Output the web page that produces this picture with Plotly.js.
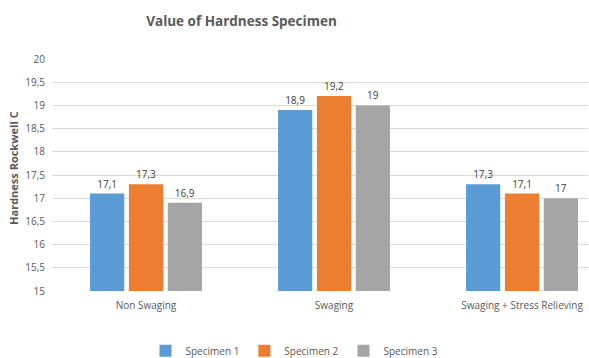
<!DOCTYPE html>
<html>
<head>
<meta charset="utf-8">
<script src="https://cdn.plot.ly/plotly-3.0.1.min.js"></script>
<style>html,body{margin:0;padding:0;background:#fff;}#chart{width:589px;height:358px;}</style>
</head>
<body>
<div id="chart"></div>
<script>
const categories = ["Non Swaging", "Swaging", "Swaging + Stress Relieving"];
const specimen1 = [17.1, 18.9, 17.3];
const specimen2 = [17.3, 19.2, 17.1];
const specimen3 = [16.9, 19.0, 17.0];
const seriesNames = ["Specimen 1", "Specimen 2", "Specimen 3"];
const seriesColors = ["#5B9BD5", "#ED7D31", "#A5A5A5"];
const yTickVals = [15, 15.5, 16, 16.5, 17, 17.5, 18, 18.5, 19, 19.5, 20];
const yTickText = ["15", "15,5", "16", "16,5", "17", "17,5", "18", "18,5", "19", "19,5", "20"];

const fmt = v => String(v).replace('.', ',');
const font = "Open Sans, Liberation Sans, sans-serif";

const traces = [specimen1, specimen2, specimen3].map((vals, i) => ({
  type: 'bar',
  name: seriesNames[i],
  x: categories,
  y: vals,
  base: 0,
  marker: {color: seriesColors[i]},
  text: vals.map(fmt),
  textposition: 'outside',
  cliponaxis: false,
  textfont: {family: font, size: 10, color: '#404040'},
  hoverinfo: 'skip'
}));

const layout = {
  width: 589, height: 358,
  margin: {l: 52, r: 1, t: 59, b: 67},
  paper_bgcolor: '#fff', plot_bgcolor: '#fff',
  barmode: 'group', bargap: 0.38, bargroupgap: 0.12,
  title: {text: '<b>Value of Hardness Specimen</b>', font: {family: font, size: 13.5, color: '#595959'},
          xref: 'container', x: 0.41, xanchor: 'center', yref: 'container', y: 0.94, yanchor: 'middle'},
  xaxis: {range: [-0.5, 2.351], showgrid: false, showline: false, zeroline: false,
          ticks: '', ticklabelstandoff: 7, tickfont: {family: font, size: 10, color: '#595959'}, fixedrange: true},
  yaxis: {range: [15, 20], tickvals: yTickVals, ticktext: yTickText, showgrid: true,
          gridcolor: '#D9D9D9', gridwidth: 1, zeroline: false, showline: false, ticks: '',
          ticklabelstandoff: 6,
          tickfont: {family: font, size: 10, color: '#595959'}, fixedrange: true},
  showlegend: true,
  legend: {orientation: 'h', xref: 'container', x: 0.5, xanchor: 'center', yref: 'container', y: 0.02, yanchor: 'middle',
           font: {family: font, size: 10, color: '#595959'}, itemwidth: 30, traceorder: 'normal'},
  annotations: [{text: '<b>Hardness Rockwell C</b>', textangle: -90, xref: 'paper', yref: 'paper',
                 x: -0.073, y: 0.53, xanchor: 'center', yanchor: 'middle', showarrow: false,
                 font: {family: font, size: 11, color: '#595959'}}]
};

Plotly.newPlot('chart', traces, layout, {staticPlot: true, displayModeBar: false});
</script>
</body>
</html>
